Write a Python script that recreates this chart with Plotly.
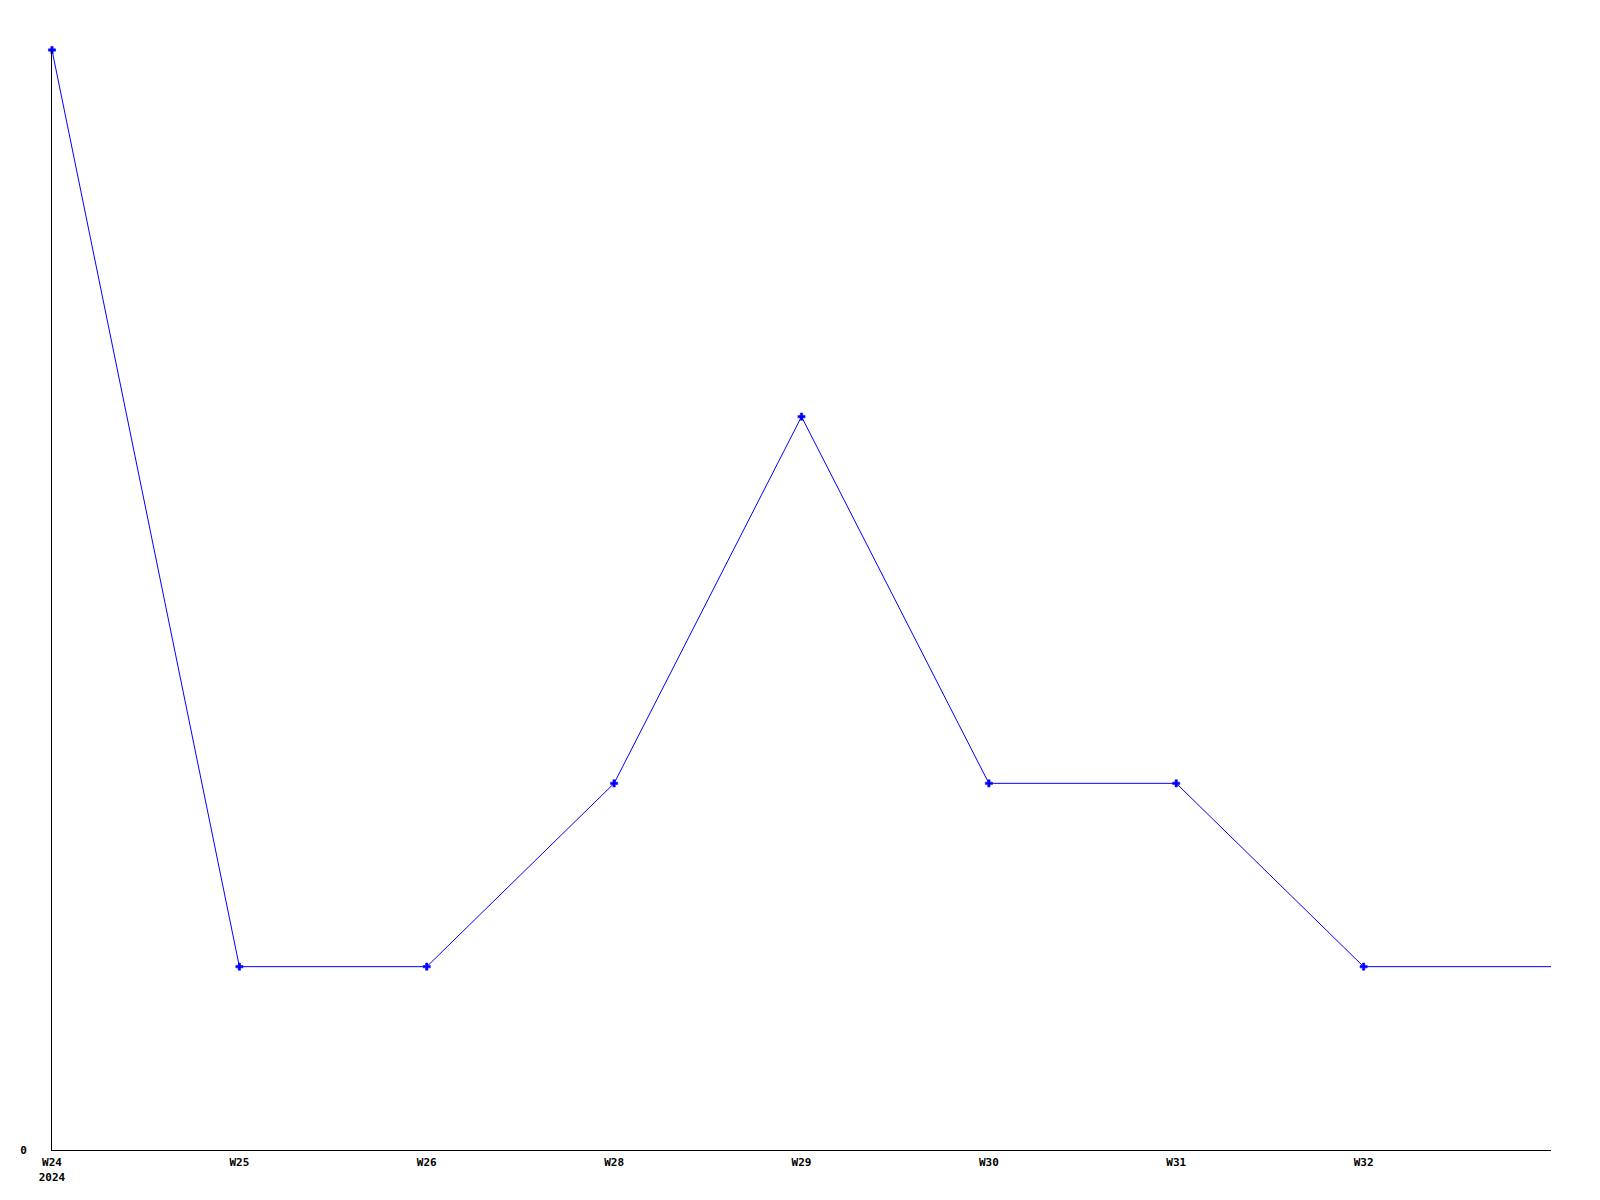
import plotly.graph_objects as go

week_labels = ["W24<br>2024", "W25", "W26", "W28", "W29", "W30", "W31", "W32", ""]
values = [6, 1, 1, 2, 4, 2, 2, 1, 1]
positions = list(range(len(values)))
show_marker = [True] * (len(values) - 1) + [False]

fig = go.Figure()
fig.add_trace(go.Scatter(
    x=positions, y=values, mode="lines",
    line=dict(color="#0000ff", width=1),
    cliponaxis=False, showlegend=False, hoverinfo="skip",
))
fig.add_trace(go.Scatter(
    x=[p for p, s in zip(positions, show_marker) if s],
    y=[v for v, s in zip(values, show_marker) if s],
    mode="markers",
    marker=dict(symbol="cross", size=6, color="#0000ff",
                line=dict(width=0.5, color="#0000ff")),
    cliponaxis=False, showlegend=False,
))

fig.update_layout(
    width=1600, height=1200,
    margin=dict(l=42, r=57, t=42, b=58),
    paper_bgcolor="white", plot_bgcolor="white",
    font=dict(family="DejaVu Sans Mono", size=11, color="black", weight="bold"),
)
fig.update_xaxes(
    range=[0, len(values) - 1], tickmode="array",
    tickvals=positions[:-1], ticktext=week_labels[:-1],
    showgrid=False, zeroline=False, showline=True, linecolor="black", linewidth=1,
    ticks="", ticklabelstandoff=2,
)
fig.update_yaxes(
    range=[0, 6], tickmode="array", tickvals=[0], ticktext=["0"],
    showgrid=False, zeroline=False, showline=True, linecolor="black", linewidth=1,
    ticks="", ticklabelstandoff=22,
)
fig.write_html("out.html")
